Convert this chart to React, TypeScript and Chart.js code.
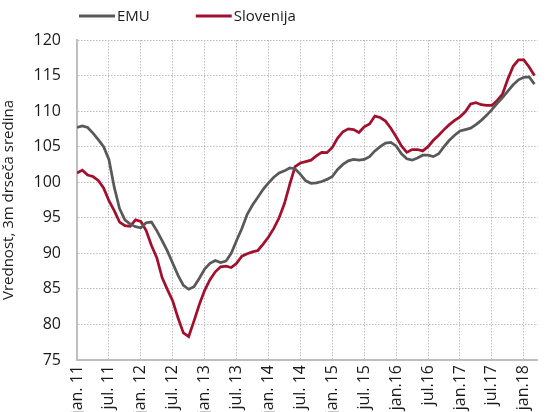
import React, { useEffect, useRef } from "react";
import { Chart, registerables } from "chart.js";

Chart.register(...registerables);

const tickLabels = [
  "jan. 11", "jul. 11", "jan. 12", "jul. 12", "jan. 13", "jul. 13", "jan. 14", "jul. 14",
  "jan. 15", "jul. 15", "jan.16", "jul.16", "jan.17", "jul.17", "jan.18",
];

const seriesNames = ["EMU", "Slovenija"];

const emu = [
  107.7, 107.9, 107.7, 106.9, 106.0, 105.0, 103.2, 99.3, 96.3, 94.7,
  94.1, 93.75, 93.6, 94.3, 94.4, 93.2, 91.8, 90.3, 88.6, 86.9,
  85.5, 84.95, 85.3, 86.5, 87.8, 88.6, 89.0, 88.7, 88.9, 90.0,
  91.8, 93.5, 95.5, 96.8, 97.9, 99.0, 99.9, 100.7, 101.3, 101.6,
  102.0, 101.9, 101.1, 100.2, 99.85, 99.9, 100.1, 100.4, 100.8, 101.8,
  102.5, 103.0, 103.2, 103.1, 103.2, 103.6, 104.4, 105.0, 105.5, 105.6,
  105.1, 104.0, 103.3, 103.1, 103.4, 103.8, 103.8, 103.6, 104.0, 105.0,
  105.9, 106.6, 107.2, 107.4, 107.6, 108.1, 108.7, 109.4, 110.2, 111.1,
  111.9, 112.8, 113.7, 114.4, 114.75, 114.8, 113.8,
];

const slovenija = [
  101.3, 101.7, 101.0, 100.8, 100.25, 99.2, 97.4, 96.0, 94.4, 93.9,
  93.8, 94.7, 94.5, 93.2, 91.1, 89.4, 86.6, 84.9, 83.3, 80.9,
  78.8, 78.3, 80.5, 82.8, 84.8, 86.3, 87.4, 88.1, 88.2, 88.0,
  88.6, 89.6, 89.95, 90.2, 90.4, 91.3, 92.3, 93.5, 95.0, 97.0,
  99.7, 102.2, 102.7, 102.9, 103.1, 103.7, 104.2, 104.15, 104.9, 106.2,
  107.1, 107.5, 107.4, 107.0, 107.8, 108.2, 109.3, 109.1, 108.6, 107.6,
  106.4, 105.1, 104.2, 104.6, 104.6, 104.4, 105.0, 105.9, 106.6, 107.4,
  108.1, 108.7, 109.2, 109.9, 111.0, 111.2, 110.9, 110.8, 110.8, 111.5,
  112.4, 114.5, 116.3, 117.2, 117.2, 116.2, 115.0,
];

const FONT = "'Open Sans', 'Noto Sans', sans-serif";

const legendPlugin = {
  id: "customLegend",
  afterDraw(chart: any) {
    const ctx = chart.ctx;
    ctx.save();
    ctx.font = `15px ${FONT}`;
    ctx.textBaseline = "middle";
    let x = 79;
    const y = 16;
    chart.data.datasets.forEach((ds: any) => {
      ctx.strokeStyle = ds.borderColor;
      ctx.lineWidth = 3;
      ctx.beginPath();
      ctx.moveTo(x, y);
      ctx.lineTo(x + 36, y);
      ctx.stroke();
      ctx.fillStyle = "#1a1a1a";
      ctx.fillText(ds.label, x + 38, y + 1);
      x += 38 + ctx.measureText(ds.label).width + 46;
    });
    ctx.restore();
  },
};

export default function App() {
  const ref = useRef<HTMLCanvasElement>(null);
  useEffect(() => {
    if (!ref.current) return;
    const gridStyle = { display: true, color: "#bdbdbd", lineWidth: 1, drawTicks: false, drawOnChartArea: true };
    const borderStyle = { display: true, color: "#bfbfbf", width: 2, dash: [1.5, 1.5] };
    const chart = new Chart(ref.current, {
      type: "line",
      data: {
        datasets: [
          {
            label: seriesNames[0],
            data: emu.map((v, i) => ({ x: i, y: v })),
            borderColor: "#595959",
            borderWidth: 2.75,
            pointRadius: 0,
            tension: 0,
          },
          {
            label: seriesNames[1],
            data: slovenija.map((v, i) => ({ x: i, y: v })),
            borderColor: "#A3102E",
            borderWidth: 2.75,
            pointRadius: 0,
            tension: 0,
          },
        ],
      },
      options: {
        animation: false,
        responsive: false,
        maintainAspectRatio: false,
        layout: { padding: { top: 40, left: 0, right: 0, bottom: 0 } },
        plugins: { legend: { display: false }, tooltip: { enabled: false } },
        scales: {
          x: {
            type: "linear",
            min: 0,
            max: 86.6,
            afterBuildTicks(scale: any) {
              scale.ticks = tickLabels.map((_, i) => ({ value: i * 6 }));
            },
            afterFit(scale: any) {
              scale.height = 52;
            },
            ticks: {
              autoSkip: false,
              minRotation: 90,
              maxRotation: 90,
              padding: 5,
              color: "#1a1a1a",
              font: { size: 16, family: FONT },
              callback: (v: any) => tickLabels[Math.round(Number(v) / 6)],
            },
            grid: gridStyle,
            border: borderStyle,
          },
          y: {
            min: 75,
            max: 120,
            afterFit(scale: any) {
              scale.width = 77;
            },
            ticks: {
              stepSize: 5,
              padding: 16,
              color: "#1a1a1a",
              font: { size: 16, family: FONT },
            },
            title: {
              display: true,
              text: "Vrednost, 3m drseča sredina",
              color: "#1a1a1a",
              font: { size: 15, family: FONT },
              padding: { top: 0, bottom: 0 },
            },
            grid: gridStyle,
            border: borderStyle,
          },
        },
      },
      plugins: [legendPlugin],
    });
    return () => chart.destroy();
  }, []);
  return (
    <div style={{ position: "fixed", left: 0, top: 0, width: 548, height: 412, background: "#fff" }}>
      <canvas ref={ref} width={548} height={412} style={{ width: 548, height: 412 }} />
    </div>
  );
}
